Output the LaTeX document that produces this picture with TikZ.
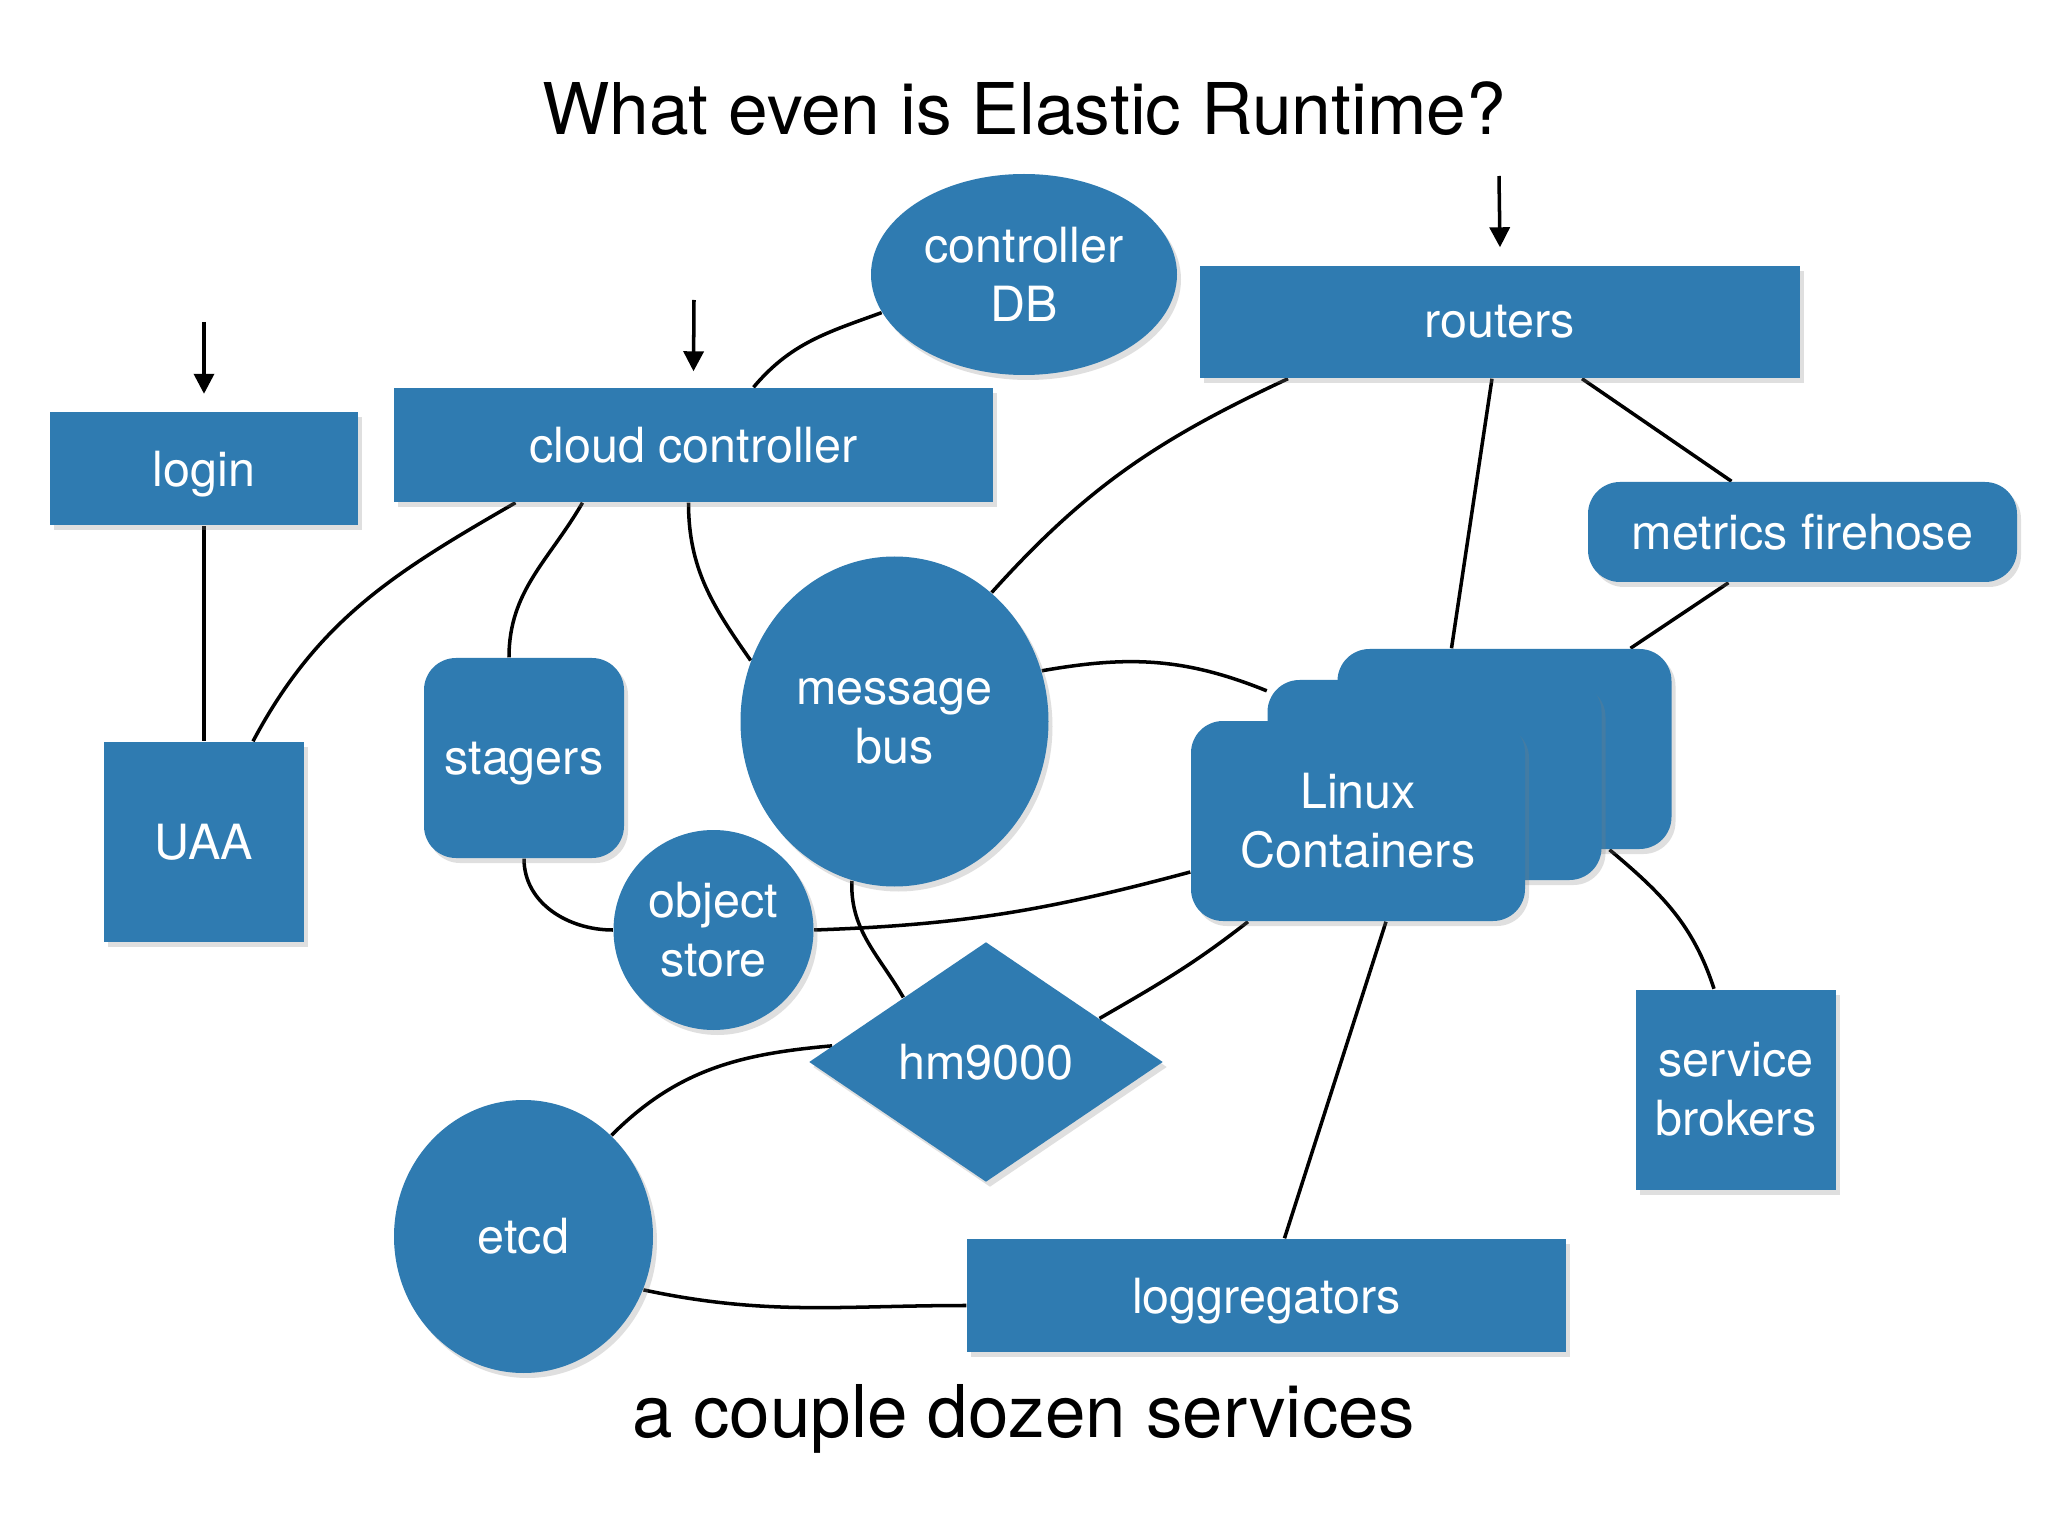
\documentclass[tikz,border=0pt]{standalone}
\usepackage{fontspec}
\setmainfont{TeX Gyre Heros}
\usetikzlibrary{shapes.geometric,arrows.meta,shadows,backgrounds}

\pgfdeclarelayer{paper}
\pgfsetlayers{paper,background,main}

\definecolor{svcblue}{RGB}{47,123,177}

\tikzset{
  svcbox/.style={rectangle, fill=svcblue, text=white, inner sep=0pt,
    font=\fontsize{13.8}{16.8}\selectfont, align=center,
    drop shadow={opacity=0.25, shadow xshift=0.4mm, shadow yshift=-0.5mm}},
  svcround/.style={svcbox, rounded corners=3.2mm},
  svcoval/.style={svcbox, ellipse},
  link/.style={line width=1pt},
  entry/.style={line width=1pt, -{Triangle[width=2mm,length=2mm]}},
}

\begin{document}
\begin{tikzpicture}
  % paper
  \begin{pgfonlayer}{paper}
    \fill[white] (0,0) rectangle (20.48,-15.36);
  \end{pgfonlayer}

  % titles
  \node[anchor=base, font=\fontsize{20.3}{24}\selectfont] (title) at (10.24,-1.35) {What even is Elastic Runtime?};
  \node[anchor=base, font=\fontsize{20.7}{24}\selectfont] (caption) at (10.24,-14.37) {a couple dozen services};

  % services
  \node[svcbox, text depth=0pt, minimum width=3.08cm, minimum height=1.13cm] (login) at (2.04,-4.69) {login};
  \node[svcbox, minimum width=2cm, minimum height=2cm] (uaa) at (2.04,-8.42) {UAA};
  \node[svcbox, minimum width=5.99cm, minimum height=1.14cm] (cc) at (6.935,-4.45) {cloud controller};
  \node[svcoval, minimum width=3.06cm, minimum height=2.01cm] (ccdb) at (10.24,-2.745) {controller\\DB};
  \node[svcbox, minimum width=6cm, minimum height=1.12cm] (routers) at (15.00,-3.22) {routers};
  \node[svcround, minimum width=4.29cm, minimum height=1cm] (firehose) at (18.025,-5.32) {metrics firehose};
  \node[svcround, text depth=0pt, minimum width=2cm, minimum height=2cm] (stagers) at (5.24,-7.58) {stagers};
  \node[svcoval, minimum width=3.08cm, minimum height=3.3cm] (nats) at (8.945,-7.215) {message\\bus};
  \node[svcoval, minimum width=2cm, minimum height=2cm] (blobstore) at (7.135,-9.30) {object\\store};

  % stacked containers
  \node[svcround, minimum width=3.34cm, minimum height=2cm] (cellc) at (15.045,-7.49) {};
  \node[svcround, minimum width=3.34cm, minimum height=2cm] (cellb) at (14.345,-7.80) {};
  \node[svcround, minimum width=3.34cm, minimum height=2cm] (cella) at (13.58,-8.21) {Linux\\Containers};

  \node[svcbox, diamond, shape aspect=1.475, minimum width=3.54cm, minimum height=2.4cm] (hm) at (9.86,-10.62) {hm9000};
  \node[svcbox, minimum width=2cm, minimum height=2cm] (brokers) at (17.36,-10.895) {service\\brokers};
  \node[svcoval, minimum width=2.59cm, minimum height=2.73cm] (etcd) at (5.235,-12.365) {etcd};
  \node[svcbox, text depth=0pt, minimum width=5.99cm, minimum height=1.13cm] (logs) at (12.665,-12.955) {loggregators};

  % entry points
  \coordinate (loginin) at (2.04,-3.22);
  \coordinate (ccin) at (6.94,-3.00);
  \coordinate (routersin) at (14.99,-1.76);
  \draw[entry] (loginin) -- ([yshift=1.8mm]login.north);
  \draw[entry] (ccin) -- ([yshift=1.6mm]cc.north);
  \draw[entry] (routersin) -- ([yshift=1.8mm]routers.north);

  % links
  \begin{scope}[on background layer]
    \draw[link] ([xshift=6mm]cc.north) to[out=50, in=200] (ccdb.195);
    \draw[link] ([xshift=-17.8mm]cc.south) to[out=210, in=62] ([xshift=4.9mm]uaa.north);
    \draw[link] ([xshift=-11.1mm]cc.south) to[out=240, in=90] ([xshift=-1.5mm]stagers.north);
    \draw[link] ([xshift=-0.5mm]cc.south) to[out=270, in=125] (nats.157);
    \draw[link] (login.south) -- (uaa.north);
    \draw[link] ([xshift=-21.2mm]routers.south) to[out=205, in=48] (nats.53);
    \draw[link] ([xshift=-0.8mm]routers.south) -- ([xshift=-5.3mm]cellc.north);
    \draw[link] ([xshift=8.2mm]routers.south) -- ([xshift=-7.1mm]firehose.north);
    \draw[link] ([xshift=-7.4mm]firehose.south) -- ([xshift=12.6mm]cellc.north);
    \draw[link] (nats.19) to[out=10, in=158] (cellb.152);
    \draw[link] (stagers.south) to[out=270, in=180] (blobstore.west);
    \draw[link] (blobstore.east) to[out=2, in=195] ([yshift=-5.1mm]cella.west);
    \draw[link] (nats.255) to[out=268, in=120] (hm.142);
    \draw[link] (hm.174) to[out=185, in=45] (etcd.49);
    \draw[link] (etcd.336) to[out=-12, in=180] ([yshift=-1mm]logs.west);
    \draw[link] ([xshift=-11mm]cella.south) to[out=218, in=30] (hm.21);
    \draw[link] ([xshift=2.8mm]cella.south) -- ([xshift=1.8mm]logs.north);
    \draw[link] ([xshift=10.5mm]cellc.south) to[out=-40, in=108] ([xshift=-2.2mm]brokers.north);
  \end{scope}
\end{tikzpicture}
\end{document}
